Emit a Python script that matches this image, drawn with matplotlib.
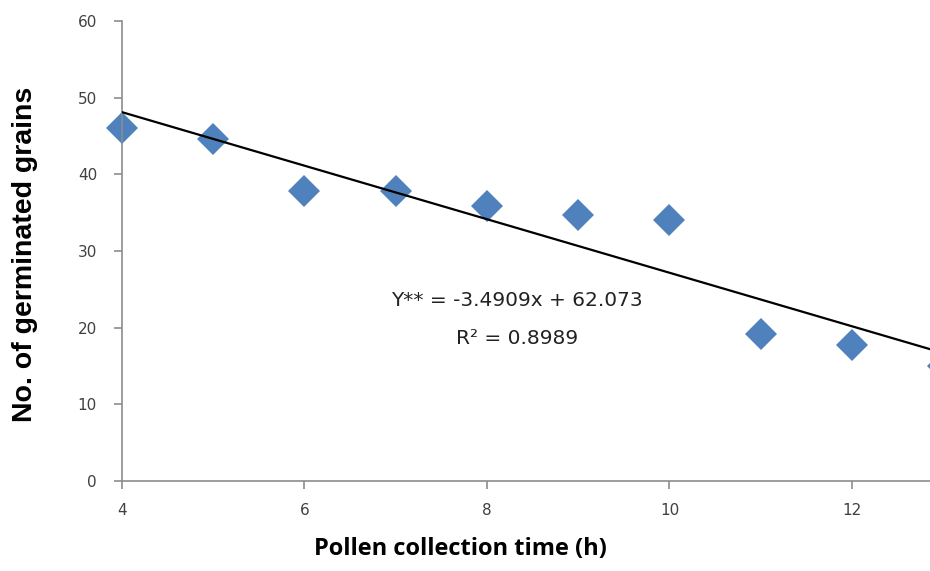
import matplotlib.pyplot as plt
import numpy as np

heures = [4, 5, 6, 7, 8, 9, 10, 11, 12, 13]
grains = [46.0, 44.6, 37.8, 37.8, 35.9, 34.7, 34.1, 19.2, 17.8, 15.0]
pente = -3.4909
origine = 62.073

fig = plt.figure(figsize=(9.3, 5.71), dpi=100)
ax = fig.add_axes([122 / 930, 1 - 481 / 571, 1 - 122 / 930, 460 / 571])

ax.plot(heures, grains, linestyle='none', marker='D', markersize=16,
        color='#4F81BD', markeredgewidth=0, zorder=2, clip_on=False)

xs = np.array([4, 14])
ax.plot(xs, pente * xs + origine, color='black', linewidth=1.6, zorder=3)

ax.set_xlim(4, 12.855)
ax.set_ylim(0, 60)
ax.set_xticks([4, 6, 8, 10, 12])
ax.set_yticks(range(0, 61, 10))

for s in ['top', 'right']:
    ax.spines[s].set_visible(False)
for s in ['left', 'bottom']:
    ax.spines[s].set_color('#8c8c8c')
    ax.spines[s].set_linewidth(1.2)
ax.tick_params(colors='#8c8c8c', labelcolor='#404040', labelsize=11,
               length=6, width=1.2, direction='out')
ax.tick_params(axis='x', pad=10)
ax.tick_params(axis='y', pad=12)

ax.text(8.33, 23.6, 'Y** = -3.4909x + 62.073', fontsize=14.5, color='#222222',
        ha='center', va='center')
ax.text(8.33, 18.6, 'R² = 0.8989', fontsize=14.5, color='#222222',
        ha='center', va='center')

fig.text(460 / 930, 1 - 549 / 571, 'Pollen collection time (h)', fontsize=17,
         fontweight='bold', family='Open Sans', ha='center', va='center')
fig.text(25 / 930, 1 - 254 / 571, 'No. of germinated grains', fontsize=20.5,
         fontweight='bold', family='Liberation Sans', ha='center', va='center',
         rotation=90)

fig.savefig('out.png', dpi=100)
